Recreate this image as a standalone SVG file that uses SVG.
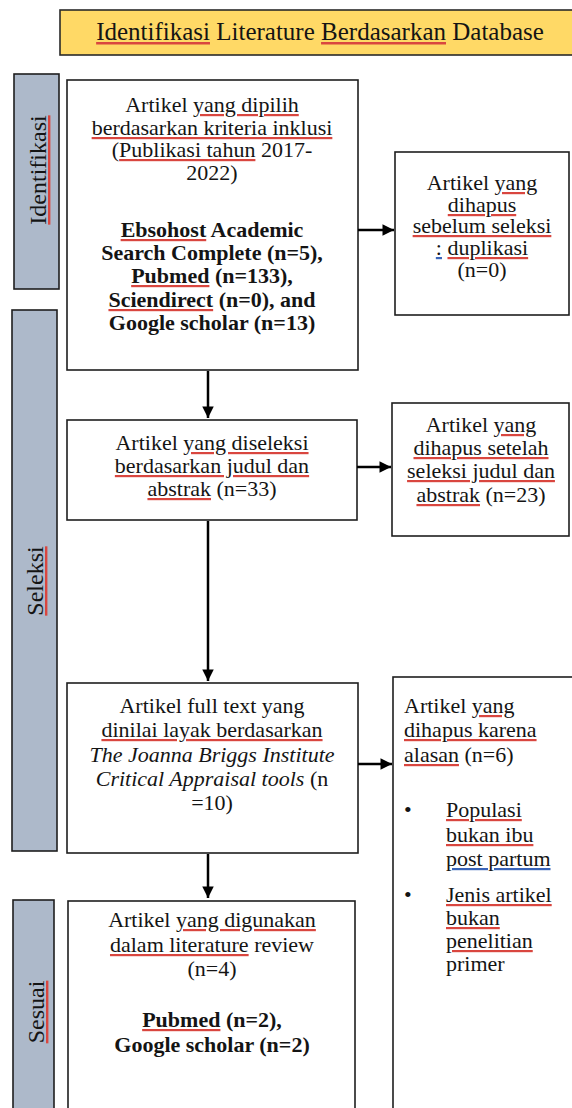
<svg xmlns="http://www.w3.org/2000/svg" width="572" height="1108" viewBox="0 0 572 1108">
<defs>
<style>
.box{fill:#ffffff;stroke:#1e1e1e;stroke-width:1.6}
.hdr{fill:#FFD966;stroke:#2a2a2a;stroke-width:1.6}
.bar{fill:#ADB9CA;stroke:#1e1e1e;stroke-width:1.6}
.t{font-family:"Liberation Serif","Times New Roman",serif;font-size:22px;fill:#141414}
.c{text-anchor:middle}
.b{font-weight:bold}
.i{font-style:italic}
.lbl{font-size:24px}
.sq{text-decoration:underline;fill:#d9463f}
.bl{text-decoration:underline;fill:#3a64b8}
.k{fill:#141414}
.ln{fill:none;stroke:#000;stroke-width:2.5}
</style>
<marker id="ah" viewBox="0 0 10 10" refX="10" refY="5" markerWidth="4.8" markerHeight="4.6" markerUnits="strokeWidth" orient="auto">
<path d="M0,0 L10,5 L0,10 z" fill="#000"/>
</marker>
</defs>
<rect width="572" height="1108" fill="#ffffff"/>

<g id="header">
<rect class="hdr" x="60" y="10" width="530" height="45"/>
<text class="t c" x="320" y="40" style="font-size:25px"><tspan class="sq"><tspan class="k">Identifikasi</tspan></tspan> Literature <tspan class="sq"><tspan class="k">Berdasarkan</tspan></tspan> Database</text>
</g>

<g id="bar-identifikasi">
<rect class="bar" x="14" y="74" width="45" height="215"/>
<text class="t c lbl" transform="translate(46,170) rotate(-90)"><tspan class="sq"><tspan class="k">Identifikasi</tspan></tspan></text>
</g>

<g id="bar-seleksi">
<rect class="bar" x="12" y="310" width="45" height="541"/>
<text class="t c lbl" transform="translate(43,581) rotate(-90)"><tspan class="sq"><tspan class="k">Seleksi</tspan></tspan></text>
</g>

<g id="bar-sesuai">
<rect class="bar" x="13" y="900" width="41" height="230"/>
<text class="t c lbl" transform="translate(44,1012) rotate(-90)"><tspan class="sq"><tspan class="k">Sesuai</tspan></tspan></text>
</g>

<g id="box-identifikasi">
<rect class="box" x="67" y="80" width="291" height="290"/>
<text class="t c" x="212" y="112">Artikel <tspan class="sq"><tspan class="k">yang dipilih</tspan></tspan></text>
<text class="t c" x="212" y="135"><tspan class="sq"><tspan class="k">berdasarkan kriteria inklusi</tspan></tspan></text>
<text class="t c" x="212" y="157">(<tspan class="sq"><tspan class="k">Publikasi tahun</tspan></tspan> 2017-</text>
<text class="t c" x="212" y="180">2022)</text>
<text class="t c b" x="212" y="237"><tspan class="sq"><tspan class="k">Ebsohost</tspan></tspan> Academic</text>
<text class="t c b" x="212" y="260">Search Complete (n=5),</text>
<text class="t c b" x="212" y="283"><tspan class="sq"><tspan class="k">Pubmed</tspan></tspan> (n=133),</text>
<text class="t c b" x="212" y="307"><tspan class="sq"><tspan class="k">Sciendirect</tspan></tspan> (n=0), and</text>
<text class="t c b" x="212" y="330">Google scholar (n=13)</text>
</g>

<g id="box-duplikasi">
<rect class="box" x="395" y="152" width="174" height="163"/>
<text class="t c" x="482" y="190">Artikel <tspan class="sq"><tspan class="k">yang</tspan></tspan></text>
<text class="t c" x="482" y="212"><tspan class="sq"><tspan class="k">dihapus</tspan></tspan></text>
<text class="t c" x="482" y="233"><tspan class="sq"><tspan class="k">sebelum seleksi</tspan></tspan></text>
<text class="t c" x="482" y="255"><tspan class="bl"><tspan class="k">:</tspan></tspan> <tspan class="sq"><tspan class="k">duplikasi</tspan></tspan></text>
<text class="t c" x="482" y="277">(n=0)</text>
</g>

<g id="box-judul">
<rect class="box" x="67" y="420" width="290" height="100"/>
<text class="t c" x="212" y="450">Artikel <tspan class="sq"><tspan class="k">yang diseleksi</tspan></tspan></text>
<text class="t c" x="212" y="473"><tspan class="sq"><tspan class="k">berdasarkan judul dan</tspan></tspan></text>
<text class="t c" x="212" y="496"><tspan class="sq"><tspan class="k">abstrak</tspan></tspan> (n=33)</text>
</g>

<g id="box-setelah">
<rect class="box" x="392" y="403" width="177" height="133"/>
<text class="t c" x="481" y="432">Artikel <tspan class="sq"><tspan class="k">yang</tspan></tspan></text>
<text class="t c" x="481" y="455"><tspan class="sq"><tspan class="k">dihapus setelah</tspan></tspan></text>
<text class="t c" x="481" y="478"><tspan class="sq"><tspan class="k">seleksi judul dan</tspan></tspan></text>
<text class="t c" x="481" y="502"><tspan class="sq"><tspan class="k">abstrak</tspan></tspan> (n=23)</text>
</g>

<g id="box-fulltext">
<rect class="box" x="67" y="683" width="291" height="170"/>
<text class="t c" x="212" y="713">Artikel full text yang</text>
<text class="t c" x="212" y="737"><tspan class="sq"><tspan class="k">dinilai layak berdasarkan</tspan></tspan></text>
<text class="t c i" x="212" y="762">The Joanna Briggs Institute</text>
<text class="t c" x="212" y="786"><tspan class="i">Critical Appraisal tools</tspan> (n</text>
<text class="t c" x="212" y="810">=10)</text>
</g>

<g id="box-karena">
<rect class="box" x="393" y="677" width="200" height="460"/>
<text class="t" x="404" y="713">Artikel <tspan class="sq"><tspan class="k">yang</tspan></tspan></text>
<text class="t" x="404" y="737"><tspan class="sq"><tspan class="k">dihapus karena</tspan></tspan></text>
<text class="t" x="404" y="762"><tspan class="sq"><tspan class="k">alasan</tspan></tspan> (n=6)</text>
<text class="t" x="404" y="817">•</text>
<text class="t" x="446" y="817"><tspan class="sq"><tspan class="k">Populasi</tspan></tspan></text>
<text class="t" x="446" y="842"><tspan class="sq"><tspan class="k">bukan ibu</tspan></tspan></text>
<text class="t" x="446" y="866"><tspan class="bl"><tspan class="k">post partum</tspan></tspan></text>
<text class="t" x="404" y="902">•</text>
<text class="t" x="446" y="902"><tspan class="sq"><tspan class="k">Jenis artikel</tspan></tspan></text>
<text class="t" x="446" y="925"><tspan class="sq"><tspan class="k">bukan</tspan></tspan></text>
<text class="t" x="446" y="948"><tspan class="sq"><tspan class="k">penelitian</tspan></tspan></text>
<text class="t" x="446" y="971">primer</text>
</g>

<g id="box-review">
<rect class="box" x="68" y="901" width="287" height="230"/>
<text class="t c" x="212" y="927">Artikel <tspan class="sq"><tspan class="k">yang digunakan</tspan></tspan></text>
<text class="t c" x="212" y="952"><tspan class="sq"><tspan class="k">dalam literature</tspan></tspan> review</text>
<text class="t c" x="212" y="976">(n=4)</text>
<text class="t c b" x="212" y="1027"><tspan class="sq"><tspan class="k">Pubmed</tspan></tspan> (n=2),</text>
<text class="t c b" x="212" y="1052">Google scholar (n=2)</text>
</g>

<g id="connectors">
<line class="ln" x1="358" y1="230" x2="394" y2="230" marker-end="url(#ah)"/>
<line class="ln" x1="208" y1="371" x2="208" y2="418" marker-end="url(#ah)"/>
<line class="ln" x1="357" y1="467" x2="391" y2="467" marker-end="url(#ah)"/>
<line class="ln" x1="208" y1="521" x2="208" y2="681" marker-end="url(#ah)"/>
<line class="ln" x1="358" y1="764" x2="392" y2="764" marker-end="url(#ah)"/>
<line class="ln" x1="208" y1="854" x2="208" y2="898" marker-end="url(#ah)"/>
</g>
</svg>
